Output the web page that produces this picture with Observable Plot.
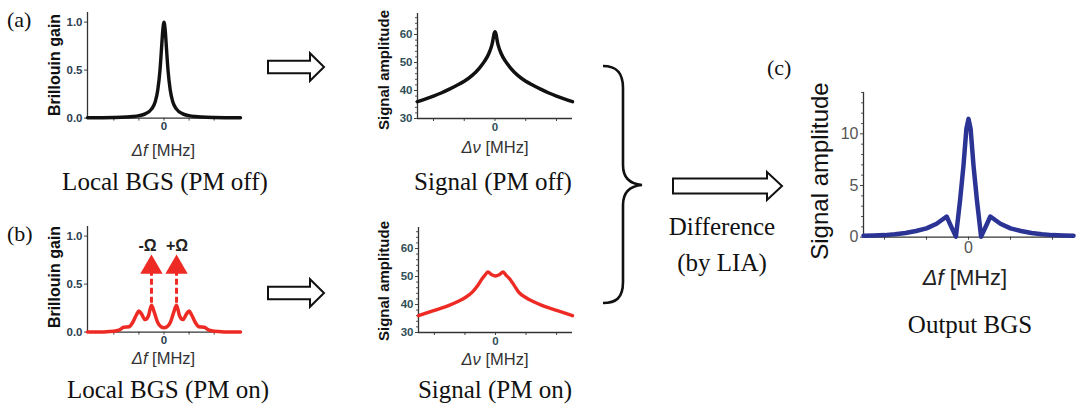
<!DOCTYPE html>
<html><head><meta charset="utf-8">
<script src="https://cdn.jsdelivr.net/npm/d3@7"></script>
<script src="https://cdn.jsdelivr.net/npm/@observablehq/plot@0.6"></script>
<style>
body{margin:0;background:#fff;}
#fig{position:relative;width:1080px;height:410px;overflow:hidden;background:#fff;}
#fig svg{position:absolute;}
</style></head><body><div id="fig"></div>
<script>
// ---------- data ----------
// (a) local BGS, PM off
const bgsOffX = [-3.05,-2.5,-2,-1.5,-1.25,-1,-0.75,-0.5,-0.35,-0.25,-0.16,-0.1,-0.05,0,0.05,0.1,0.16,0.25,0.35,0.5,0.75,1,1.25,1.5,2,2.5,3.05];
const bgsOffY = [0.003,0.004,0.006,0.011,0.016,0.025,0.044,0.093,0.17,0.29,0.5,0.72,0.91,1.0,0.91,0.72,0.5,0.29,0.17,0.093,0.044,0.025,0.016,0.011,0.006,0.004,0.003];
// (a) signal, PM off
const sigOffX = [-2.52,-2.25,-2,-1.75,-1.5,-1.25,-1,-0.75,-0.5,-0.35,-0.2,-0.1,0,0.1,0.2,0.35,0.5,0.75,1,1.25,1.5,1.75,2,2.25,2.52];
const sigOffY = [36.0,37.0,38.0,39.1,40.4,41.8,43.3,45.3,48.1,50.3,53.2,56.3,61.0,56.3,53.2,50.3,48.1,45.3,43.3,41.8,40.4,39.1,38.0,37.0,36.0];
// (b) local BGS, PM on
const bgsOnX = [-3.05,-2.4,-2,-1.8,-1.6,-1.4,-1.25,-1.1,-1.0,-0.9,-0.75,-0.62,-0.5,-0.38,-0.25,-0.12,0,0.12,0.25,0.38,0.5,0.62,0.75,0.9,1.0,1.1,1.25,1.4,1.6,1.8,2,2.4,3.05];
const bgsOnY = [0.0,0.002,0.008,0.02,0.05,0.055,0.1,0.18,0.22,0.19,0.13,0.17,0.28,0.2,0.1,0.055,0.045,0.055,0.1,0.2,0.28,0.17,0.13,0.19,0.22,0.18,0.1,0.055,0.05,0.02,0.008,0.002,0.0];
// (b) signal, PM on
const sigOnX = [-2.52,-2.25,-2,-1.75,-1.5,-1.25,-1,-0.75,-0.6,-0.45,-0.35,-0.25,-0.12,0,0.12,0.25,0.35,0.45,0.6,0.75,1,1.25,1.5,1.75,2,2.25,2.52];
const sigOnY = [36.0,37.0,37.9,38.8,39.8,41.0,42.4,44.5,46.5,49.0,50.4,51.6,50.6,50.2,50.6,51.6,50.4,49.3,47.0,44.5,42.4,41.0,39.8,38.8,37.9,37.0,36.0];
// (c) output BGS
const outX = [-2.5,-2.25,-2,-1.75,-1.5,-1.25,-1,-0.76,-0.52,-0.42,-0.3,-0.2,-0.12,-0.05,0,0.05,0.12,0.2,0.3,0.42,0.52,0.76,1,1.25,1.5,1.75,2,2.25,2.5];
const outY = [0.15,0.17,0.2,0.28,0.4,0.6,0.85,1.3,2.0,1.1,0.05,3.6,6.9,10.5,11.45,10.5,6.9,3.6,0.05,1.1,2.0,1.3,0.85,0.6,0.4,0.28,0.2,0.17,0.15];
// pump modulation side-band markers
const omegaX = [-0.5, 0.5];
const omegaLabels = ["-Ω", "+Ω"];
const omegaLabelX = [-0.66, 0.52];
// tick values
const xTicks = [-2,-1,0,1,2];
const bgsYTicks = [0,0.5,1];
const sigYTicks = [30,40,50,60];
const sigYMinor = [32,34,36,38,42,44,46,48,52,54,56,58,62,64,66];
const outYTicks = [0,5,10];
const outYMinor = [1,2,3,4,6,7,8,9,11,12,13,14];

// ---------- helpers ----------
const fig = document.getElementById("fig");
const SANS = "'Liberation Sans', Arial, sans-serif";
const SERIF = "'Liberation Serif', 'Times New Roman', serif";
const BLACK = "#111", RED = "#ee2a24", BLUE = "#2b3494";

function panel(c) {
  const ml = 45, mr = 8, mt = 6, mb = 30;
  const svg = Plot.plot({
    width: c.right - c.left + ml + mr,
    height: c.bottom - c.top + mt + mb,
    marginLeft: ml, marginRight: mr, marginTop: mt, marginBottom: mb,
    x: {domain: c.xDomain},
    y: {domain: c.yDomain},
    style: {background: "transparent", overflow: "visible", fontFamily: SANS, fontWeight: c.bold ? "bold" : "normal"},
    marks: [
      Plot.axisX({ticks: xTicks, tickFormat: d => d === 0 ? "0" : "", tickSize: 3, tickPadding: 1, fontSize: c.tickFont, fill: c.tickColor, stroke: "#444", label: null}),
      Plot.axisY({ticks: c.yTicks, tickFormat: c.yFmt, tickSize: 3, tickPadding: 2, fontSize: c.tickFont, fill: c.tickColor, stroke: "#444", label: null}),
      Plot.axisY({ticks: c.yMinor || [], tickFormat: () => "", tickSize: 2, stroke: "#555", label: null}),
      Plot.ruleX([c.xDomain[0]], {stroke: "#333", strokeWidth: 1.3}),
      Plot.ruleY([c.yDomain[0]], {stroke: "#333", strokeWidth: 1.3}),
      ...c.marks
    ]
  });
  svg.style.left = (c.left - ml) + "px";
  svg.style.top = (c.top - mt) + "px";
  fig.appendChild(svg);
}

// (a) local BGS PM off
panel({left: 87, right: 240, top: 12.4, bottom: 118, xDomain: [-3.05, 3.05], yDomain: [0, 1.1],
  yTicks: bgsYTicks, yFmt: d => d.toFixed(1), tickFont: 11.5, tickColor: "#2c3e50", bold: true,
  marks: [Plot.line(bgsOffX, {x: bgsOffX, y: bgsOffY, stroke: BLACK, strokeWidth: 3.4, curve: "monotone-x"})]});
// (a) signal PM off
panel({left: 417, right: 572, top: 13.3, bottom: 118.3, xDomain: [-2.52, 2.52], yDomain: [30, 67.5],
  yTicks: sigYTicks, yMinor: sigYMinor, yFmt: d => String(d), tickFont: 11.5, tickColor: "#2f4f58", bold: true,
  marks: [Plot.line(sigOffX, {x: sigOffX, y: sigOffY, stroke: BLACK, strokeWidth: 3.5, curve: "monotone-x"})]});
// (b) local BGS PM on
panel({left: 87, right: 240, top: 225.9, bottom: 331.5, xDomain: [-3.05, 3.05], yDomain: [0, 1.1],
  yTicks: bgsYTicks, yFmt: d => d.toFixed(1), tickFont: 11.5, tickColor: "#2c3e50", bold: true,
  marks: [
    Plot.line(bgsOnX, {x: bgsOnX, y: bgsOnY, stroke: RED, strokeWidth: 3.5, curve: "monotone-x"}),
    Plot.ruleX(omegaX, {x: d => d, y1: 0.3, y2: 0.61, stroke: RED, strokeWidth: 3, strokeDasharray: "6,3"}),
    Plot.dot(omegaX, {x: d => d, y: 0.675, symbol: "triangle", r: 8.3, fill: RED, stroke: "none"}),
    Plot.text(omegaLabels, {x: omegaLabelX, y: 0.9, text: d => d, fontSize: 16, fontWeight: "bold", fill: "#222"})
  ]});
// (b) signal PM on
panel({left: 418, right: 572, top: 226.8, bottom: 331.8, xDomain: [-2.52, 2.52], yDomain: [30, 67.5],
  yTicks: sigYTicks, yMinor: sigYMinor, yFmt: d => String(d), tickFont: 11.5, tickColor: "#2f4f58", bold: true,
  marks: [Plot.line(sigOnX, {x: sigOnX, y: sigOnY, stroke: RED, strokeWidth: 3.4, curve: "monotone-x"})]});
// (c) output BGS
panel({left: 863, right: 1073, top: 92, bottom: 236.7, xDomain: [-2.5, 2.5], yDomain: [0, 14],
  yTicks: outYTicks, yMinor: outYMinor, yFmt: d => String(d), tickFont: 16, tickColor: "#555", bold: false,
  marks: [Plot.line(outX, {x: outX, y: outY, stroke: BLUE, strokeWidth: 4.5, strokeLinejoin: "round"})]});

// ---------- annotations overlay ----------
const ov = d3.select(fig).append("svg").attr("width", 1080).attr("height", 410).style("left", "0px").style("top", "0px");

function txt(x, y, s, o = {}) {
  const t = ov.append("text").attr("x", x).attr("y", y)
    .attr("text-anchor", o.anchor || "middle")
    .style("font-family", o.family || SERIF)
    .style("font-size", (o.size || 24) + "px")
    .style("font-weight", o.weight || "normal")
    .attr("fill", o.fill || "#111");
  if (o.rotate) t.attr("transform", `rotate(-90,${x},${y})`).attr("dominant-baseline", "central");
  if (o.italicPrefix) {
    t.append("tspan").style("font-style", "italic").text(o.italicPrefix);
    t.append("tspan").text(s);
  } else t.text(s);
  return t;
}

// panel letters
txt(7, 27, "(a)", {anchor: "start", size: 22});
txt(7, 241, "(b)", {anchor: "start", size: 22});
txt(767, 75, "(c)", {anchor: "start", size: 22});

// axis titles
txt(54.5, 65, "Brillouin gain", {family: SANS, size: 16, weight: "bold", rotate: true});
txt(54.5, 277, "Brillouin gain", {family: SANS, size: 16, weight: "bold", rotate: true});
txt(383, 70, "Signal amplitude", {family: SANS, size: 15, weight: "bold", rotate: true});
txt(383, 281, "Signal amplitude", {family: SANS, size: 15, weight: "bold", rotate: true});
txt(819, 171, "Signal amplitude", {family: SANS, size: 24, rotate: true});

txt(163.5, 156, " [MHz]", {family: SANS, size: 16.5, italicPrefix: "Δf", fill: "#333"});
txt(163.5, 364, " [MHz]", {family: SANS, size: 16.5, italicPrefix: "Δf", fill: "#333"});
txt(495, 153, " [MHz]", {family: SANS, size: 16.5, italicPrefix: "Δν", fill: "#333"});
txt(495, 365, " [MHz]", {family: SANS, size: 16.5, italicPrefix: "Δν", fill: "#333"});
txt(965, 285, " [MHz]", {family: SANS, size: 22, italicPrefix: "Δf", fill: "#222"});

// captions
txt(165, 190, "Local BGS (PM off)", {size: 25});
txt(493, 190, "Signal (PM off)", {size: 25});
txt(168, 398, "Local BGS (PM on)", {size: 25});
txt(495, 398, "Signal (PM on)", {size: 25});
txt(722, 235, "Difference", {size: 25});
txt(722, 271, "(by LIA)", {size: 25});
txt(970, 333, "Output BGS", {size: 25});

// hollow block arrows
function hollowArrow(x0, x1, xt, cy, bh, hh) {
  ov.append("path")
    .attr("d", `M${x0},${cy - bh}L${x1},${cy - bh}L${x1},${cy - hh}L${xt},${cy}L${x1},${cy + hh}L${x1},${cy + bh}L${x0},${cy + bh}Z`)
    .attr("fill", "#fff").attr("stroke", "#111").attr("stroke-width", 2).attr("stroke-linejoin", "miter");
}
hollowArrow(268, 310, 324, 67, 6.3, 13.8);
hollowArrow(268, 310, 324, 293, 6.3, 13.8);
hollowArrow(673, 767, 782, 186, 7.5, 14);

// curly brace
ov.append("path")
  .attr("d", "M603,66C616,66 623,72 623,88L623,165C623,178 630,184 642,185C630,186 623,192 623,205L623,282C623,298 616,303 603,303")
  .attr("fill", "none").attr("stroke", "#111").attr("stroke-width", 2.6);
</script>
</body></html>
